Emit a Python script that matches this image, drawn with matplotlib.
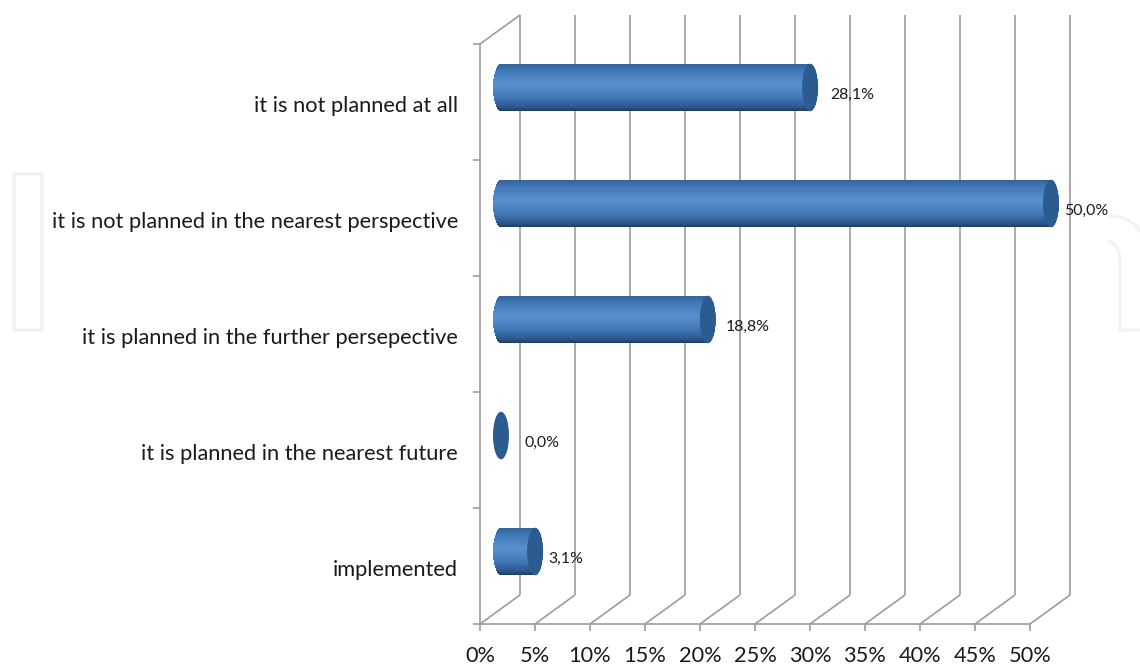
import numpy as np
import matplotlib
matplotlib.use("Agg")
import matplotlib.pyplot as plt
from matplotlib.patches import Ellipse, FancyBboxPatch, PathPatch
from matplotlib.path import Path
from matplotlib.colors import LinearSegmentedColormap
from matplotlib.transforms import Affine2D, offset_copy

# Chart data, bottom category first
categories = ["implemented",
              "it is planned in the nearest future",
              "it is planned in the further persepective",
              "it is not planned in the nearest perspective",
              "it is not planned at all"]
values = [3.1, 0.0, 18.8, 50.0, 28.1]
value_labels = ["3,1%", "0,0%", "18,8%", "50,0%", "28,1%"]
x_ticks = [0, 5, 10, 15, 20, 25, 30, 35, 40, 45, 50]
x_tick_labels = ["0%", "5%", "10%", "15%", "20%", "25%", "30%", "35%", "40%", "45%", "50%"]

# gap between bar end and its label, pixels
label_gaps = [5, 16, 10, 5, 12]

# 3d look: how far the back wall is shifted, in data units
DEPTH_X = 40 / 11.0
DEPTH_Y = 0.25
CAP_W = 16 / 11.0
BAR_HALF = 0.205
N_STRIPS = 48

GRID = "#9c9c9c"
TEXT = "#1a1a1a"

plt.rcParams["font.family"] = ["Lato", "DejaVu Sans"]

fig = plt.figure(figsize=(11.4, 6.65), dpi=100)
ax = fig.add_axes([480 / 1140, 41 / 665, 550 / 1140, 580 / 665])
ax.set_xlim(0, 50)
ax.set_ylim(-0.5, 4.5)
ax.axis("off")

# faint watermark on the page edges
px = Affine2D().scale(1, -1).translate(0, 665)
fig.add_artist(FancyBboxPatch((14, 174), 28, 156, boxstyle="round,pad=0,rounding_size=2",
                              fc="none", ec="#eff1f1", lw=2.2, transform=px))
fig.add_artist(PathPatch(Path([(1108, 216), (1128, 216), (1140, 226), (1145, 240)],
                              [Path.MOVETO, Path.CURVE4, Path.CURVE4, Path.CURVE4]),
                         fc="none", ec="#f1f3f3", lw=2.2, transform=px))
fig.add_artist(PathPatch(Path([(1108, 241), (1118, 244), (1120, 252), (1120, 265),
                               (1120, 330), (1145, 330)],
                              [Path.MOVETO, Path.CURVE4, Path.CURVE4, Path.CURVE4,
                               Path.LINETO, Path.LINETO]),
                         fc="none", ec="#f1f3f3", lw=2.2, transform=px))

y_bottom, y_top = ax.get_ylim()
line = dict(color=GRID, lw=1.2, clip_on=False, zorder=1, solid_capstyle="butt")

# walls and gridlines
for t, lab in zip(x_ticks, x_tick_labels):
    ax.plot([t + DEPTH_X, t + DEPTH_X], [y_bottom + DEPTH_Y, y_top + DEPTH_Y], **line)
    ax.plot([t, t + DEPTH_X], [y_bottom, y_bottom + DEPTH_Y], **line)
    ax.plot([t, t], [y_bottom, y_bottom - 0.06], **line)
    ax.text(t, y_bottom - 0.275, lab, ha="center", va="center", fontsize=15.7, color=TEXT)
ax.plot([0, 50], [y_bottom, y_bottom], **line)
ax.plot([0, 0], [y_bottom, y_top], **line)
ax.plot([0, DEPTH_X], [y_top, y_top + DEPTH_Y], **line)
for i in range(len(categories) + 1):
    ax.plot([-0.6, 0], [y_bottom + i, y_bottom + i], **line)

# cylinders, shaded with thin horizontal strips
cmap = LinearSegmentedColormap.from_list("cyl", [
    (0.0, "#34639c"), (0.15, "#4078b8"), (0.45, "#5b90cf"),
    (0.75, "#3f74b3"), (0.92, "#2c568a"), (1.0, "#1f3d64")])
shade = (np.arange(N_STRIPS) + 0.5) / N_STRIPS  # 0 at the top edge, 1 at the bottom

for i, (cat, v) in enumerate(zip(categories, values)):
    xc = DEPTH_X / 2 + 0.09
    yc = i + DEPTH_Y / 2
    x_end = xc + v
    if v > 0:
        strip_y = yc + BAR_HALF * (1 - 2 * shade)
        bulge = CAP_W / 2 * np.sqrt(1 - (1 - 2 * shade) ** 2)
        ax.barh(strip_y, v + 2 * bulge, left=xc - bulge, height=2 * BAR_HALF / N_STRIPS * 1.15,
                color=cmap(shade), lw=0, zorder=3, clip_on=False)
    ax.add_patch(Ellipse((x_end, yc), CAP_W, BAR_HALF * 2, fc="#2c5b90", ec="none", zorder=4, clip_on=False))

    # value label next to the bar end
    ax.annotate(value_labels[i], (x_end + CAP_W / 2, yc), xytext=(label_gaps[i] * 0.72, -5.6),
                textcoords="offset points", ha="left", va="center", fontsize=11.4,
                color=TEXT, zorder=5, annotation_clip=False)

    ax.text(-2, i, cat, ha="right", va="center", fontsize=15.7, color=TEXT, clip_on=False,
            transform=offset_copy(ax.transData, fig=fig, y=-4, units="dots"))

ax.set_xlim(0, 50)
ax.set_ylim(-0.5, 4.5)

fig.savefig("out.png", dpi=100, facecolor="white")
